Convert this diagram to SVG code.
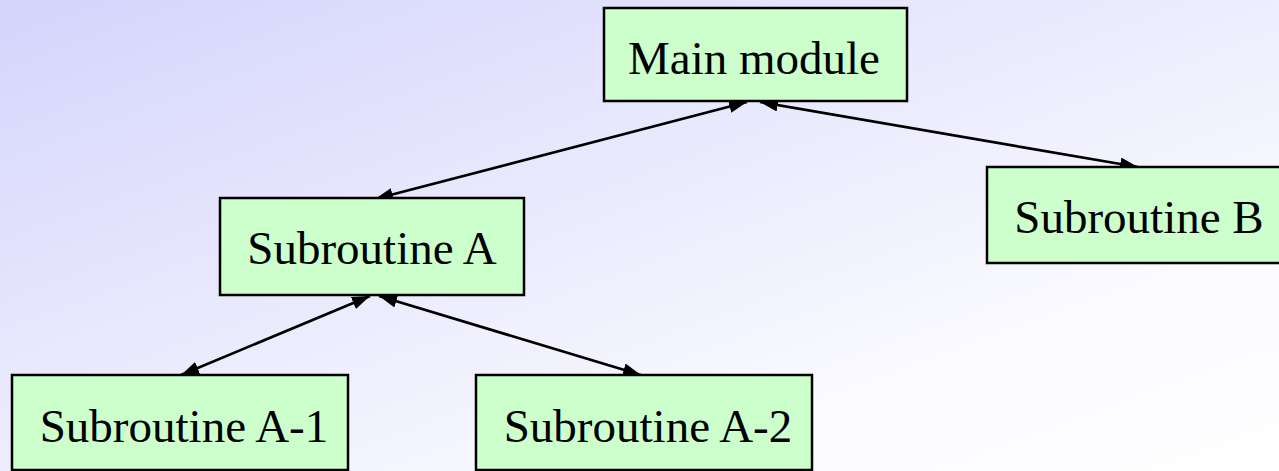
<svg xmlns="http://www.w3.org/2000/svg" width="1279" height="471" viewBox="0 0 1279 471">
  <defs>
    <linearGradient id="bg" x1="0" y1="0" x2="1" y2="1">
      <stop offset="0" stop-color="#d4d4fc"/>
      <stop offset="0.75" stop-color="#fafaff"/>
      <stop offset="1" stop-color="#ffffff"/>
    </linearGradient>
    <marker id="head" viewBox="0 0 18 13" refX="18" refY="6.5" markerWidth="18" markerHeight="13" markerUnits="userSpaceOnUse" orient="auto-start-reverse">
      <path d="M0,0 L18,6.5 L0,13 Z" fill="#000"/>
    </marker>
  </defs>
  <style>
    .box { fill: #ccffcc; stroke: #000; stroke-width: 2.5; }
    .label { font-family: "Liberation Serif", "Times New Roman", serif; font-size: 47px; fill: #000; text-anchor: middle; }
    .link { stroke: #000; stroke-width: 2.7; fill: none; marker-start: url(#head); marker-end: url(#head); }
  </style>

  <rect x="0" y="0" width="1279" height="471" fill="url(#bg)"/>

  <g id="connectors">
    <line class="link" x1="747" y1="102" x2="375" y2="199"/>
    <line class="link" x1="760" y1="102" x2="1138" y2="167"/>
    <line class="link" x1="370" y1="296" x2="181" y2="375"/>
    <line class="link" x1="379" y1="296" x2="641" y2="375"/>
  </g>

  <g id="main-module">
    <rect class="box" x="604" y="8" width="303" height="93"/>
    <text class="label" x="754" y="74">Main module</text>
  </g>

  <g id="subroutine-a">
    <rect class="box" x="220" y="198" width="304" height="97"/>
    <text class="label" x="372" y="264">Subroutine A</text>
  </g>

  <g id="subroutine-b">
    <rect class="box" x="987" y="167" width="300" height="96"/>
    <text class="label" x="1139" y="233">Subroutine B</text>
  </g>

  <g id="subroutine-a-1">
    <rect class="box" x="12" y="375" width="336" height="95"/>
    <text class="label" x="184" y="442">Subroutine A-1</text>
  </g>

  <g id="subroutine-a-2">
    <rect class="box" x="476" y="375" width="336" height="95"/>
    <text class="label" x="648" y="442">Subroutine A-2</text>
  </g>
</svg>
